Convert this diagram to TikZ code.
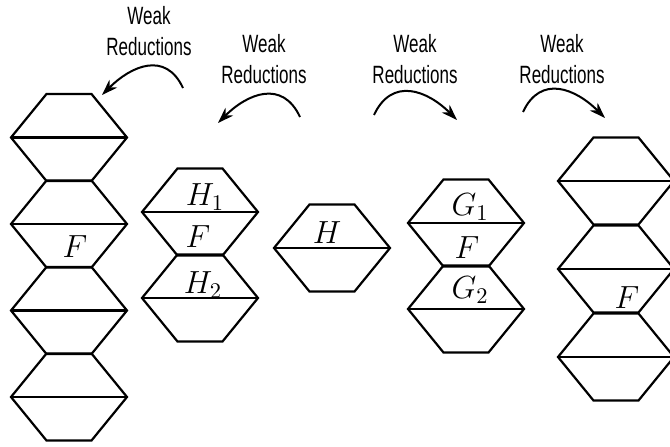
\RequirePackage{fix-cm}
\documentclass[tikz,border=0pt]{standalone}
\usepackage{fontspec}
\newfontfamily\redfont[FakeStretch=0.68]{Liberation Sans}
\usetikzlibrary{arrows.meta}

\begin{document}
\begin{tikzpicture} [ x=0.5pt, y=0.5pt
								, hexline/.style={line width=1.1pt, line join=miter}
								, hexcell/.pic={\draw [hexline] (-22.5,43.5) -- (22.5,43.5) -- (58,0) -- (22.5,-43.5) -- (-22.5,-43.5) -- (-58,0) -- cycle;
								                \draw [hexline] (-58,0) -- (58,0);}
								, term/.style={inner sep=0pt, font=\fontsize{16}{18}\selectfont}
								, reduktion/.style={align=center, inner sep=0pt, font=\redfont\fontsize{12.5}{15.5}\selectfont}
								, bogen/.style={draw, line width=1pt, looseness=1.3, arrows={-Stealth[length=8pt, width=5.5pt]}}
								]
	\useasboundingbox (0,0) rectangle (670,446);

	% long stack on the left
	\pic (L1) at (69,308.5) {hexcell};
	\pic (L2) at (69,222) {hexcell};
	\pic (L3) at (69,135.5) {hexcell};
	\pic (L4) at (69,49) {hexcell};
	\node (FLeft) [term] at (75,199) {$F$};

	% H stack
	\pic (H1) at (200,234) {hexcell};
	\pic (H2) at (200,148) {hexcell};
	\node (Heins) [term] at (205,249) {$H_1$};
	\node (FH) [term] at (198,209) {$F$};
	\node (Hzwei) [term] at (203,161) {$H_2$};

	% single H
	\pic (H0) at (332,198) {hexcell};
	\node (Hsolo) [term] at (327,213) {$H$};

	% G stack
	\pic (G1) at (466,223) {hexcell};
	\pic (G2) at (466,137) {hexcell};
	\node (Geins) [term] at (470,239) {$G_1$};
	\node (FG) [term] at (467,198) {$F$};
	\node (Gzwei) [term] at (470,156) {$G_2$};

	% long stack on the right
	\pic (R1) at (616,265) {hexcell};
	\pic (R2) at (616,177) {hexcell};
	\pic (R3) at (616,89) {hexcell};
	\node (FRight) [term] at (627,148) {$F$};

	\node (WR1) [reduktion] at (149,414.5) {Weak\\Reductions};
	\node (WR2) [reduktion] at (264,387) {Weak\\Reductions};
	\node (WR3) [reduktion] at (415,387) {Weak\\Reductions};
	\node (WR4) [reduktion] at (562,387) {Weak\\Reductions};

	\coordinate (A1s) at (183,358);
	\coordinate (A1e) at (102,351);
	\coordinate (A2s) at (300,329);
	\coordinate (A2e) at (218,323);
	\coordinate (A3s) at (374,331);
	\coordinate (A3e) at (457,326);
	\coordinate (A4s) at (523,334);
	\coordinate (A4e) at (605,328);

	\draw [bogen] (A1s) to [out=115, in=45] (A1e);
	\draw [bogen] (A2s) to [out=115, in=45] (A2e);
	\draw [bogen] (A3s) to [out=65, in=135] (A3e);
	\draw [bogen] (A4s) to [out=65, in=135] (A4e);

\end{tikzpicture}
\end{document}
